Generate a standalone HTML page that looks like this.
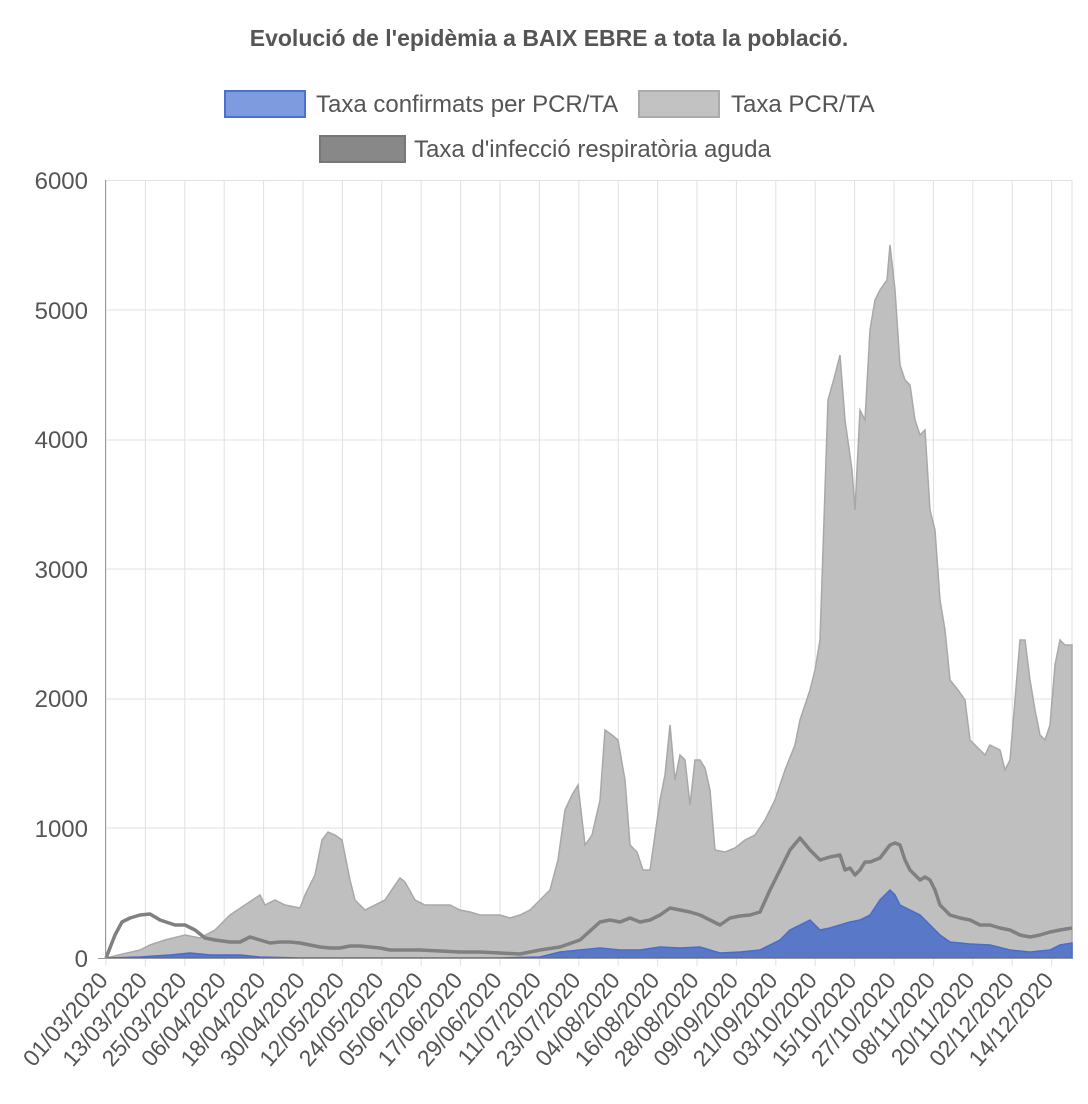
<!DOCTYPE html>
<html><head><meta charset="utf-8"><style>
body{margin:0;background:#fff;}
svg{display:block;font-family:"Liberation Sans",sans-serif;}
</style></head><body>
<svg width="1088" height="1104" viewBox="0 0 1088 1104">
<text x="549" y="46" text-anchor="middle" font-size="23" font-weight="bold" fill="#555">Evolució de l'epidèmia a BAIX EBRE a tota la població.</text>
<rect x="225" y="91" width="80" height="26" fill="#7f9be0" stroke="#4a70d0" stroke-width="2"/>
<text x="316" y="112" font-size="24" fill="#555">Taxa confirmats per PCR/TA</text>
<rect x="639" y="91" width="80" height="26" fill="#c2c2c2" stroke="#aaa" stroke-width="2"/>
<text x="731" y="112" font-size="24" fill="#555">Taxa PCR/TA</text>
<rect x="320" y="136" width="85" height="26" fill="#888" stroke="#777" stroke-width="2"/>
<text x="414" y="157" font-size="24" fill="#555">Taxa d'infecció respiratòria aguda</text>
<g stroke="#e0e0e0" stroke-width="1">
<line x1="106" y1="180.5" x2="1072" y2="180.5"/><line x1="106" y1="310" x2="1072" y2="310"/><line x1="106" y1="440" x2="1072" y2="440"/><line x1="106" y1="569" x2="1072" y2="569"/><line x1="106" y1="699" x2="1072" y2="699"/><line x1="106" y1="828" x2="1072" y2="828"/>
</g>
<g id="vg" stroke="#e0e0e0" stroke-width="1"></g>
<g font-size="24" fill="#555" text-anchor="end">
<text x="88" y="189">6000</text><text x="88" y="319">5000</text><text x="88" y="448">4000</text><text x="88" y="578">3000</text><text x="88" y="707">2000</text><text x="88" y="837">1000</text><text x="88" y="967">0</text>
</g>
<polygon fill="#bfbfbf" stroke="#a8a8a8" stroke-width="1.5" points="106,958 140,950 150,945 165,940 185,935 200,938 215,930 230,915 245,905 260,895 265,905 275,900 285,905 300,908 305,895 315,875 322,840 328,832 335,835 342,840 350,880 355,900 365,910 375,905 385,900 395,885 400,878 405,882 415,900 425,905 440,905 450,905 460,910 470,912 480,915 490,915 500,915 510,918 520,915 530,910 540,900 550,890 558,860 565,810 572,795 578,785 585,845 592,835 600,800 605,730 612,735 618,740 625,780 630,845 637,852 643,870 650,870 655,835 660,800 665,775 670,725 675,780 680,755 685,760 690,805 695,760 700,760 705,768 710,790 715,850 725,852 735,848 745,840 755,835 765,820 775,800 785,770 795,745 800,720 810,690 815,670 820,640 828,400 835,375 840,355 845,420 852,470 855,510 860,410 865,420 870,330 875,300 880,290 887,280 890,245 895,290 900,365 905,380 910,385 915,420 920,435 925,430 930,510 935,530 940,600 945,630 950,680 958,690 965,700 970,740 975,745 980,750 985,755 990,745 1000,750 1005,770 1010,760 1015,700 1020,640 1025,640 1030,680 1035,710 1040,735 1045,740 1050,725 1055,665 1060,640 1065,645 1072,645 1072,958"/>
<polygon fill="#5a78c8" stroke="#4a6cc8" stroke-width="1.5" points="106,958 140,957 170,955 190,953 210,955 240,955 260,957 300,958 500,958 540,957 560,952 580,950 600,948 620,950 640,950 660,947 680,948 700,947 720,953 740,952 760,950 780,940 790,930 800,925 810,920 820,930 830,928 840,925 850,922 860,920 870,915 880,900 890,890 895,895 900,905 910,910 920,915 930,925 940,935 950,942 970,944 990,945 1010,950 1030,952 1050,950 1060,945 1072,943 1072,958"/>
<polyline fill="none" stroke="#808080" stroke-width="3.5" stroke-linejoin="round" points="106,958 115,935 122,922 130,918 140,915 150,914 160,920 175,925 185,925 195,930 205,938 215,940 230,942 240,942 250,937 260,940 270,943 280,942 290,942 300,943 310,945 320,947 330,948 340,948 350,946 360,946 370,947 380,948 390,950 400,950 420,950 440,951 460,952 480,952 500,953 520,954 540,950 560,947 580,940 600,922 610,920 620,922 630,918 640,922 650,920 660,915 670,908 680,910 690,912 700,915 710,920 720,925 730,918 740,916 750,915 760,912 770,890 780,870 790,850 800,838 810,850 820,860 830,857 840,855 845,870 850,868 855,875 860,870 865,862 870,862 880,858 890,845 895,843 900,845 905,860 910,870 920,880 925,877 930,880 935,890 940,905 950,915 960,918 970,920 980,925 990,925 1000,928 1010,930 1020,935 1030,937 1040,935 1050,932 1060,930 1072,928"/>
<line x1="105.5" y1="180" x2="105.5" y2="958" stroke="#999"/>
<line x1="98" y1="958.5" x2="1072" y2="958.5" stroke="#999"/>
<g id="xl" font-size="23" fill="#555" text-anchor="end"></g>
</svg>
<script>
var labels=["01/03/2020","13/03/2020","25/03/2020","06/04/2020","18/04/2020","30/04/2020","12/05/2020","24/05/2020","05/06/2020","17/06/2020","29/06/2020","11/07/2020","23/07/2020","04/08/2020","16/08/2020","28/08/2020","09/09/2020","21/09/2020","03/10/2020","15/10/2020","27/10/2020","08/11/2020","20/11/2020","02/12/2020","14/12/2020"];
var vg=document.getElementById('vg'),xl=document.getElementById('xl'),ns="http://www.w3.org/2000/svg";
for(var i=0;i<labels.length;i++){var x=106+i*39.4;
var l=document.createElementNS(ns,'line');l.setAttribute('x1',x);l.setAttribute('x2',x);l.setAttribute('y1',180);l.setAttribute('y2',966);vg.appendChild(l);
var t=document.createElementNS(ns,'text');t.setAttribute('transform','translate('+(x+3)+',981) rotate(-49)');t.textContent=labels[i];xl.appendChild(t);}
var l=document.createElementNS(ns,'line');l.setAttribute('x1',1072);l.setAttribute('x2',1072);l.setAttribute('y1',180);l.setAttribute('y2',958);vg.appendChild(l);
</script>
</body></html>
